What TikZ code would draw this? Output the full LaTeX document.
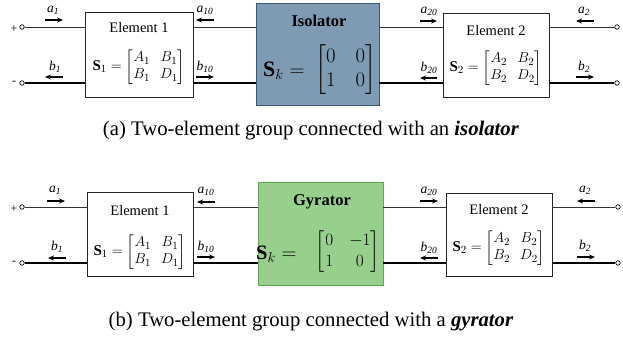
\documentclass[tikz,border=0pt]{standalone}
\usepackage{amsmath}
\usepackage{fontspec}
\setmainfont{Liberation Serif}
\usetikzlibrary{arrows.meta}
\definecolor{isofill}{HTML}{7F9BB3}
\definecolor{isoedge}{HTML}{3A5878}
\definecolor{gyrfill}{HTML}{97CF8C}
\definecolor{gyredge}{HTML}{5AAE48}
\begin{document}
\begin{tikzpicture}[x=1pt,y=-1pt,
  elbox/.style={draw=black!85, line width=0.8pt, fill=white, inner sep=0pt},
  isobox/.style={draw=isoedge, line width=0.9pt, fill=isofill, inner sep=0pt},
  gyrbox/.style={draw=gyredge, line width=0.9pt, fill=gyrfill, inner sep=0pt},
  term/.style={circle, draw=black, line width=0.7pt, fill=white, inner sep=0pt, minimum size=4.5pt},
  thinw/.style={line width=0.8pt, draw=black!80},
  thickw/.style={line width=2pt, draw=black},
  wave/.style={line width=1.5pt, -{Stealth[length=6pt,width=5pt]}},
  wlabel/.style={font=\fontsize{13.5}{15}\selectfont\itshape, inner sep=0pt},
  eltitle/.style={font=\fontsize{14.5}{17}\selectfont, inner sep=0pt},
  elmat/.style={font=\fontsize{15}{17}\selectfont, inner sep=0pt},
  bigtitle/.style={font=\fontsize{16.5}{19}\selectfont\bfseries, inner sep=0pt},
  isolhs/.style={font=\fontsize{22}{24}\selectfont, inner sep=0pt},
  isomat/.style={font=\fontsize{20}{24}\selectfont, inner sep=0pt},
  gyrlhs/.style={font=\fontsize{20.5}{22}\selectfont, inner sep=0pt},
  gyrmat/.style={font=\fontsize{18}{21}\selectfont, inner sep=0pt},
  caption/.style={font=\fontsize{20.7}{24}\selectfont, inner sep=0pt},
  sign/.style={font=\fontsize{12}{14}\selectfont, inner sep=0pt}]
\useasboundingbox (0,0) rectangle (623,345);

% ================= (a) =================
\node[elbox, minimum width=108pt, minimum height=85pt] (e1) at (139,54.5) {};
\node[isobox, minimum width=123pt, minimum height=102pt] (iso) at (317.5,54) {};
\node[elbox, minimum width=106pt, minimum height=84pt] (e2) at (496,55) {};

\node[term] (tp1) at (22,27) {};
\node[term] (tm1) at (22,83) {};
\node[term] (tp2) at (617,27) {};
\node[term] (tm2) at (617,83) {};
\node[sign] (sp1) at (14,29) {+};
\node[sign] (sm1) at (14,83) {-};

\draw[thinw] (tp1) -- (e1.west |- tp1);
\draw[thinw] (e1.east |- tp1) -- (iso.west |- tp1);
\draw[thinw] (iso.east |- tp1) -- (e2.west |- tp1);
\draw[thinw] (e2.east |- tp2) -- (tp2);
\draw[thickw] (tm1) -- (e1.west |- tm1);
\draw[thickw] (e1.east |- tm1) -- (iso.west |- tm1);
\draw[thickw] (iso.east |- tm1) -- (e2.west |- tm1);
\draw[thickw] (e2.east |- tm2) -- (tm2);

\node[eltitle] (e1t) at (139,28) {Element 1};
\node[elmat] (e1m) at (139,67) {$\mathbf{S}_1=\begin{bmatrix}A_1 & B_1\\ B_1 & D_1\end{bmatrix}$};
\node[eltitle] (e2t) at (496,31) {Element 2};
\node[elmat] (e2m) at (496,68) {$\mathbf{S}_2=\begin{bmatrix}A_2 & B_2\\ B_2 & D_2\end{bmatrix}$};
\node[bigtitle] (isot) at (319,21) {Isolator};
\node[isolhs, anchor=west] (isol) at (263,71) {$\mathbf{S}_k=$};
\node[isomat, anchor=west] (isom) at (315,70) {$\left[\begin{array}{@{\hspace{0pt}}c@{\hspace{20pt}}c@{\hspace{0pt}}}0 & 0\\ 1 & 0\end{array}\right]$};

% wave arrows (a)
\coordinate (a1s) at (45,20); \coordinate (a1e) at (63,20);
\draw[wave] (a1s) -- (a1e); \node[wlabel] (a1l) at (53,10) {a\textsubscript{1}};
\coordinate (b1s) at (63,77); \coordinate (b1e) at (45,77);
\draw[wave] (b1s) -- (b1e); \node[wlabel] (b1l) at (55,67) {b\textsubscript{1}};
\coordinate (a10s) at (214,20); \coordinate (a10e) at (196,20);
\draw[wave] (a10s) -- (a10e); \node[wlabel] (a10l) at (205,10) {a\textsubscript{10}};
\coordinate (b10s) at (196,77); \coordinate (b10e) at (214,77);
\draw[wave] (b10s) -- (b10e); \node[wlabel] (b10l) at (205,67) {b\textsubscript{10}};
\coordinate (a20s) at (420,21); \coordinate (a20e) at (437,21);
\draw[wave] (a20s) -- (a20e); \node[wlabel] (a20l) at (429,11) {a\textsubscript{20}};
\coordinate (b20s) at (437,78); \coordinate (b20e) at (420,78);
\draw[wave] (b20s) -- (b20e); \node[wlabel] (b20l) at (429,68) {b\textsubscript{20}};
\coordinate (a2s) at (594,21); \coordinate (a2e) at (576,21);
\draw[wave] (a2s) -- (a2e); \node[wlabel] (a2l) at (584,11) {a\textsubscript{2}};
\coordinate (b2s) at (576,77); \coordinate (b2e) at (594,77);
\draw[wave] (b2s) -- (b2e); \node[wlabel] (b2l) at (584,67) {b\textsubscript{2}};

\node[caption] (capa) at (311,131) {(a) Two-element group connected with an \textbf{\textit{isolator}}};

% ================= (b) =================
\node[elbox, minimum width=106pt, minimum height=84pt] (f1) at (140,234) {};
\node[gyrbox, minimum width=125pt, minimum height=103pt] (gyr) at (320.5,233.5) {};
\node[elbox, minimum width=106pt, minimum height=83pt] (f2) at (499,234.5) {};

\node[term] (up1) at (22,207) {};
\node[term] (um1) at (22,263) {};
\node[term] (up2) at (618,207) {};
\node[term] (um2) at (618,263) {};
\node[sign] (sp2) at (14,209) {+};
\node[sign] (sm2) at (14,263) {-};

\draw[thinw] (up1) -- (f1.west |- up1);
\draw[thinw] (f1.east |- up1) -- (gyr.west |- up1);
\draw[thinw] (gyr.east |- up1) -- (f2.west |- up1);
\draw[thinw] (f2.east |- up2) -- (up2);
\draw[thickw] (um1) -- (f1.west |- um1);
\draw[thickw] (f1.east |- um1) -- (gyr.west |- um1);
\draw[thickw] (gyr.east |- um1) -- (f2.west |- um1);
\draw[thickw] (f2.east |- um2) -- (um2);

\node[eltitle] (f1t) at (140,211) {Element 1};
\node[elmat] (f1m) at (140,252) {$\mathbf{S}_1=\begin{bmatrix}A_1 & B_1\\ B_1 & D_1\end{bmatrix}$};
\node[eltitle] (f2t) at (499,210) {Element 2};
\node[elmat] (f2m) at (499,248) {$\mathbf{S}_2=\begin{bmatrix}A_2 & B_2\\ B_2 & D_2\end{bmatrix}$};
\node[bigtitle] (gyrt) at (322,202) {Gyrator};
\node[gyrlhs, anchor=west] (gyrl) at (256,254) {$\mathbf{S}_k=$};
\node[gyrmat, anchor=west] (gyrm) at (315,252) {$\left[\begin{array}{@{\hspace{1pt}}c@{\hspace{16pt}}c@{\hspace{0pt}}}0 & -1\\ 1 & 0\end{array}\right]$};

% wave arrows (b)
\coordinate (c1s) at (47,201); \coordinate (c1e) at (65,201);
\draw[wave] (c1s) -- (c1e); \node[wlabel] (c1l) at (55,190) {a\textsubscript{1}};
\coordinate (d1s) at (66,258); \coordinate (d1e) at (48,258);
\draw[wave] (d1s) -- (d1e); \node[wlabel] (d1l) at (57,247) {b\textsubscript{1}};
\coordinate (c10s) at (215,202); \coordinate (c10e) at (197,202);
\draw[wave] (c10s) -- (c10e); \node[wlabel] (c10l) at (206,191) {a\textsubscript{10}};
\coordinate (d10s) at (197,257); \coordinate (d10e) at (215,257);
\draw[wave] (d10s) -- (d10e); \node[wlabel] (d10l) at (206,247) {b\textsubscript{10}};
\coordinate (c20s) at (420,201); \coordinate (c20e) at (438,201);
\draw[wave] (c20s) -- (c20e); \node[wlabel] (c20l) at (429,191) {a\textsubscript{20}};
\coordinate (d20s) at (438,258); \coordinate (d20e) at (420,258);
\draw[wave] (d20s) -- (d20e); \node[wlabel] (d20l) at (429,248) {b\textsubscript{20}};
\coordinate (c2s) at (595,201); \coordinate (c2e) at (577,201);
\draw[wave] (c2s) -- (c2e); \node[wlabel] (c2l) at (585,190) {a\textsubscript{2}};
\coordinate (d2s) at (577,257); \coordinate (d2e) at (595,257);
\draw[wave] (d2s) -- (d2e); \node[wlabel] (d2l) at (585,246) {b\textsubscript{2}};

\node[caption] (capb) at (311,322) {(b) Two-element group connected with a \textbf{\textit{gyrator}}};
\end{tikzpicture}
\end{document}
